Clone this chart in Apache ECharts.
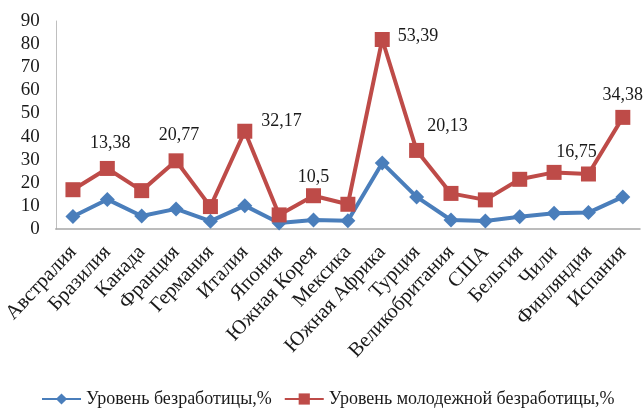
<!DOCTYPE html>
<html>
<head>
<meta charset="utf-8">
<script src="https://cdn.jsdelivr.net/npm/echarts@6/dist/echarts.min.js"></script>
<style>
  html, body { margin: 0; padding: 0; background: #fff; }
  #chart { width: 644px; height: 410px; }
</style>
</head>
<body>
<div id="chart"></div>
<script>
// страны
var countries = ['Австралия', 'Бразилия', 'Канада', 'Франция', 'Германия', 'Италия', 'Япония',
  'Южная Корея', 'Мексика', 'Южная Африка', 'Турция', 'Великобритания', 'США', 'Бельгия',
  'Чили', 'Финляндия', 'Испания'];
// уровень безработицы, %
var unemployment = [5.4, 12.8, 5.6, 8.7, 3.4, 10.1, 2.6, 3.9, 3.6, 28.6, 13.9, 3.9, 3.5, 5.3, 6.8, 7.1, 13.9];
// уровень молодежной безработицы, %
var youthUnemployment = [17.0, 26.2, 16.6, 29.5, 9.7, 42.3, 6.1, 14.4, 10.7, 82.0, 34.0, 15.4, 12.6, 21.5, 24.5, 23.8, 48.3];
// подписи (разница)
var gapLabels = ['', '13,38', '', '20,77', '', '32,17', '', '10,5', '', '53,39', '20,13', '', '', '', '', '16,75', '34,38'];
var yTicks = [0, 10, 20, 30, 40, 50, 60, 70, 80, 90];

var serif = '"Liberation Serif", "DejaVu Serif", serif';
var blue = '#4A7EBB', red = '#BE4B48';

// где ставить подпись у точки
var labelPlace = {
  1: { position: 'top', offset: [3, -4] },
  3: { position: 'top', offset: [3, -4] },
  5: { position: 'right', offset: [4, -10] },
  7: { position: 'top', offset: [0, 3] },
  9: { position: 'right', offset: [3, -3] },
  10: { position: 'top', offset: [31, -3] },
  15: { position: 'top', offset: [-12, 0] },
  16: { position: 'top', offset: [0, -1] }
};

var redData = [];
for (var i = 0; i < youthUnemployment.length; i++) {
  var item = { value: youthUnemployment[i] };
  if (gapLabels[i]) {
    var p = labelPlace[i] || { position: 'top', offset: [0, 0] };
    item.label = {
      show: true,
      formatter: gapLabels[i],
      position: p.position,
      offset: p.offset,
      color: '#1a1a1a',
      fontFamily: serif,
      fontSize: 18
    };
  }
  redData.push(item);
}

var chart = echarts.init(document.getElementById('chart'));
chart.setOption({
  backgroundColor: '#fff',
  animation: false,
  grid: { left: 53, right: 4, top: 21, bottom: 181 },
  legend: {
    top: 385,
    left: 36,
    width: 608,
    itemWidth: 39,
    itemHeight: 14,
    itemGap: 12,
    textStyle: { fontFamily: serif, fontSize: 18, color: '#1a1a1a' },
    data: ['Уровень безработицы,%', 'Уровень молодежной безработицы,%']
  },
  xAxis: {
    type: 'category',
    data: countries,
    boundaryGap: true,
    axisLine: { lineStyle: { color: '#a6a6a6', width: 1.5 } },
    axisTick: { show: false },
    axisLabel: {
      rotate: 47,
      interval: 0,
      margin: 20,
      fontFamily: serif,
      fontSize: 20.5,
      color: '#1a1a1a'
    }
  },
  yAxis: {
    type: 'value',
    min: yTicks[0],
    max: yTicks[yTicks.length - 1],
    interval: 10,
    splitLine: { show: false },
    axisLine: { show: true, lineStyle: { color: '#bfbfbf' } },
    axisTick: { show: false },
    axisLabel: { margin: 16, fontFamily: serif, fontSize: 19, color: '#1a1a1a' }
  },
  series: [{
    name: 'Уровень безработицы,%',
    type: 'line',
    data: unemployment,
    symbol: 'diamond',
    symbolSize: 15,
    itemStyle: { color: blue },
    lineStyle: { color: blue, width: 4 }
  }, {
    name: 'Уровень молодежной безработицы,%',
    type: 'line',
    data: redData,
    symbol: 'rect',
    symbolSize: 15,
    itemStyle: { color: red },
    lineStyle: { color: red, width: 4 }
  }]
});
</script>
</body>
</html>
